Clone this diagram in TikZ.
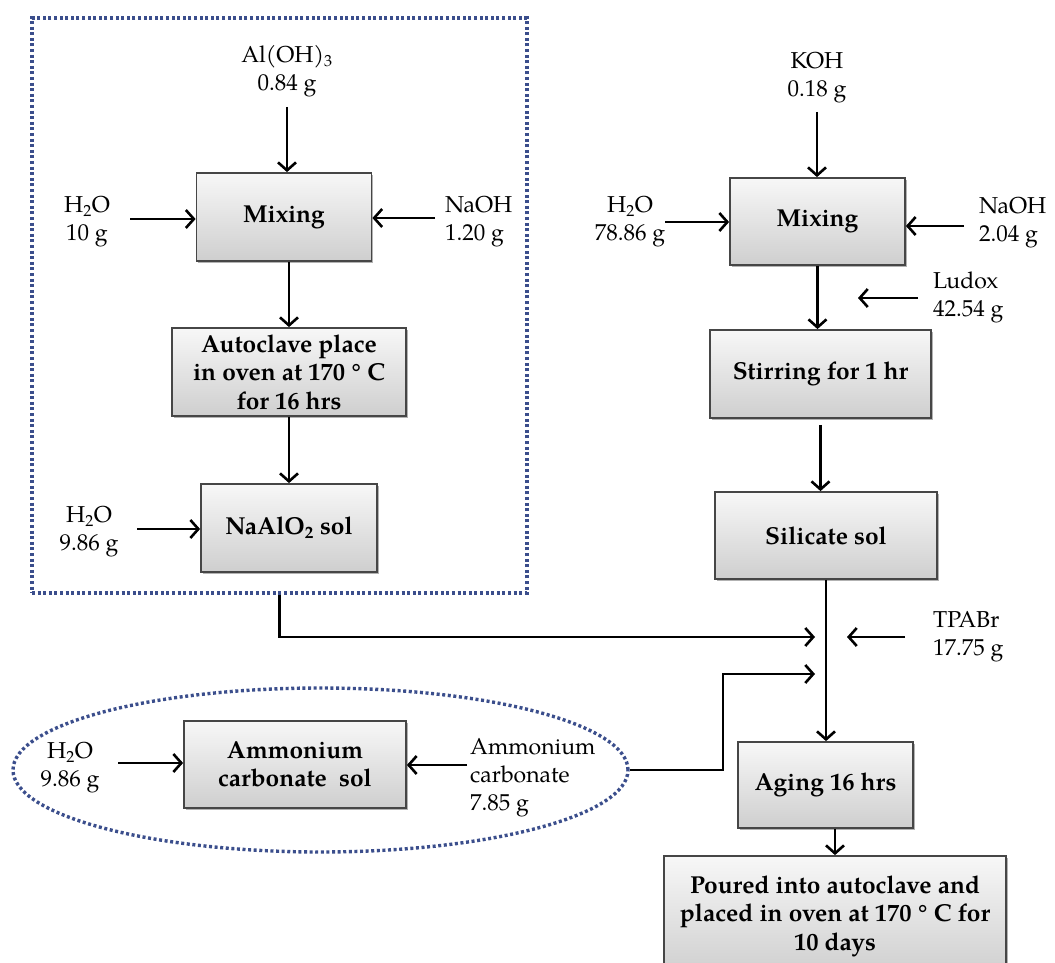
\documentclass[tikz,border=0pt]{standalone}
\usepackage{fontspec}
\setmainfont{TeX Gyre Pagella}
\usetikzlibrary{arrows.meta,shapes.geometric,shadows,calc}
\definecolor{navy}{RGB}{59,78,140}
\definecolor{boxline}{RGB}{70,70,70}
\begin{document}
\begin{tikzpicture}[x=1pt,y=-1pt,
  lbl/.style={font=\fontsize{23}{28}\selectfont, align=center, inner sep=0pt},
  lbll/.style={lbl, align=left, anchor=west},
  box/.style={draw=boxline, line width=1.8pt, top color=gray!6, bottom color=gray!38,
    font=\fontsize{24.5}{28.5}\selectfont\bfseries, align=center, inner sep=0pt,
    drop shadow={shadow xshift=1.5pt, shadow yshift=-2pt, opacity=0.3, fill=black}},
  arr/.style={line width=2.6pt, -{Straight Barb[length=8pt,width=18pt]}},
  grp/.style={draw=navy, line width=3.4pt, dash pattern=on 3pt off 2.6pt},
]
\useasboundingbox (0,0) rectangle (1055,963);

% groups
\node[grp, minimum width=495pt, minimum height=575pt, inner sep=0pt] (grpA) at (279.5,305.5) {};
\node[grp, ellipse, minimum width=615pt, minimum height=164pt, inner sep=0pt] (grpB) at (320.5,770) {};

% boxes
\node[box, minimum width=175pt, minimum height=88pt] (mixA) at (284,217) {Mixing};
\node[box, minimum width=234pt, minimum height=88pt] (auto) at (289,372) {Autoclave place\\in oven at 170 ° C\\for 16 hrs};
\node[box, minimum width=176pt, minimum height=88pt] (naal) at (289,528) {NaAlO\textsubscript{2} sol};
\node[box, minimum width=175pt, minimum height=87pt] (mixB) at (817.5,221.5) {Mixing};
\node[box, minimum width=221pt, minimum height=88pt] (stir) at (820.5,374) {Stirring for 1 hr};
\node[box, minimum width=222pt, minimum height=87pt] (sil) at (826,535.5) {Silicate sol};
\node[box, minimum width=222pt, minimum height=87pt] (amb) at (295,764.5) {Ammonium\\carbonate\ \ sol};
\node[box, minimum width=175pt, minimum height=86pt] (aging) at (825.5,785) {Aging 16 hrs};
\node[box, minimum width=342pt, minimum height=120pt] (pour) at (835,916) {Poured into autoclave and\\placed in oven at 170 ° C for\\10 days};

% labels
\node[lbl] (aloh) at (287,71.5) {Al(OH)\textsubscript{3}\\0.84 g};
\node[lbl] (h2oA) at (87,221.5) {H\textsubscript{2}O\\10 g};
\node[lbll] (naohA) at (445,221.5) {NaOH\\1.20 g};
\node[lbl] (h2oNa) at (89,531.5) {H\textsubscript{2}O\\9.86 g};
\node[lbl] (koh) at (817,78) {KOH\\0.18 g};
\node[lbl] (h2oB) at (630,222) {H\textsubscript{2}O\\78.86 g};
\node[lbll] (naohB) at (979,223) {NaOH\\2.04 g};
\node[lbll] (ludox) at (933,297.5) {Ludox\\42.54 g};
\node[lbll] (tpabr) at (933,637) {TPABr\\17.75 g};
\node[lbl] (h2oC) at (70,768) {H\textsubscript{2}O\\9.86 g};
\node[lbll] (amc) at (470,778) {Ammonium\\carbonate\\7.85 g};

% free ends
\coordinate (sAl) at (287,107);
\coordinate (sH2A) at (130,219);
\coordinate (sNaA) at (435,218);
\coordinate (sH2Na) at (137,529);
\coordinate (sKOH) at (817,112);
\coordinate (sH2B) at (665,222);
\coordinate (sNaB) at (964,226);
\coordinate (sLud) at (918,298);
\coordinate (tLud) at (858,298);
\coordinate (sTPA) at (905,637);
\coordinate (tTPA) at (847,637);
\coordinate (j1) at (815,637);
\coordinate (j2) at (815,674);
\coordinate (bend) at (723,674);
\coordinate (sH2C) at (118,763);
\coordinate (sAmc) at (467,765);

% connectors left group
\draw[arr] (sAl) -- (sAl |- mixA.north);
\draw[arr] (sH2A) -- (sH2A -| mixA.west);
\draw[arr] (sNaA) -- (sNaA -| mixA.east);
\draw[arr] (mixA.south -| auto.north) -- (auto.north);
\draw[arr] (auto.south) -- (naal.north);
\draw[arr] (sH2Na) -- (sH2Na -| naal.west);
\draw[arr] (grpA.south) |- (j1);

% right column
\draw[arr] (sKOH) -- (sKOH |- mixB.north);
\draw[arr] (sH2B) -- (sH2B -| mixB.west);
\draw[arr] (sNaB) -- (sNaB -| mixB.east);
\draw[arr] (mixB.south) -- (mixB.south |- stir.north);
\draw[arr] (sLud) -- (tLud);
\draw[arr, shorten <=6pt] (stir.south) -- (stir.south |- sil.north);
\draw[arr] (sil.south) -- (sil.south |- aging.north);
\draw[arr] (sTPA) -- (tTPA);
\draw[arr] (aging.south -| pour.north) -- (pour.north);

% ammonium group
\draw[arr] (sH2C) -- (sH2C -| amb.west);
\draw[arr] (sAmc) -- (sAmc -| amb.east);
\draw[arr] (grpB.east) -| (bend) -- (j2);
\end{tikzpicture}
\end{document}
